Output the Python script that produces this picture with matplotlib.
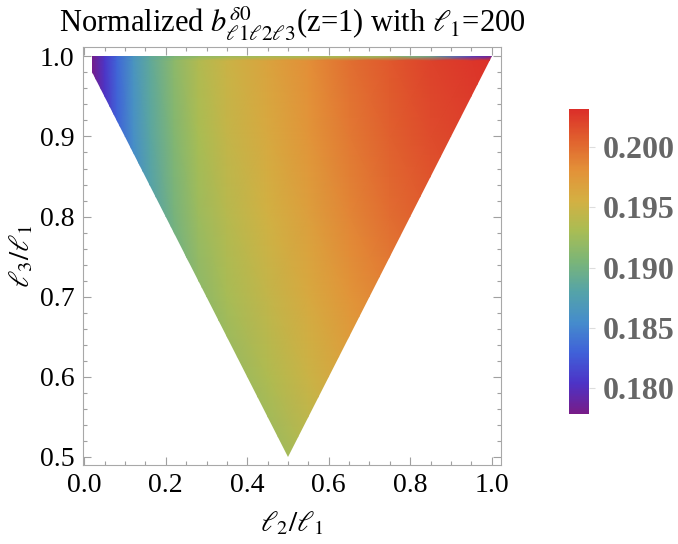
import numpy as np
import matplotlib
matplotlib.use("Agg")
import matplotlib.pyplot as plt
from matplotlib.colors import LinearSegmentedColormap, Normalize
from matplotlib.patches import Polygon
from matplotlib.cm import ScalarMappable

plt.rcParams['font.family'] = ['Liberation Serif', 'DejaVu Serif']
plt.rcParams['mathtext.fontset'] = 'stix'

# sample nodes (l2/l1, l3/l1) and values
x_nodes = [0.00, 0.02, 0.05, 0.08, 0.12, 0.16, 0.22, 0.28, 0.35, 0.45, 0.55, 0.65, 0.75, 0.85, 0.95, 1.00]
y_nodes = [0.5, 0.6, 0.7, 0.8, 0.9, 0.995, 1.0]

row_050 = [0.17326, 0.17353, 0.17598, 0.17870, 0.18170, 0.18415, 0.18687, 0.18895, 0.19050, 0.19204, 0.19367, 0.19530, 0.19657, 0.19757, 0.19821, 0.19839]
row_060 = [0.17463, 0.17490, 0.17735, 0.18007, 0.18307, 0.18552, 0.18824, 0.19032, 0.19187, 0.19341, 0.19504, 0.19667, 0.19794, 0.19894, 0.19958, 0.19976]
row_070 = [0.17571, 0.17598, 0.17843, 0.18115, 0.18415, 0.18660, 0.18932, 0.19140, 0.19295, 0.19449, 0.19612, 0.19775, 0.19902, 0.20002, 0.20066, 0.20084]
row_080 = [0.17662, 0.17689, 0.17934, 0.18206, 0.18506, 0.18751, 0.19023, 0.19231, 0.19386, 0.19540, 0.19703, 0.19866, 0.19993, 0.20093, 0.20157, 0.20175]
row_090 = [0.17735, 0.17762, 0.18007, 0.18279, 0.18579, 0.18824, 0.19096, 0.19304, 0.19459, 0.19613, 0.19776, 0.19939, 0.20066, 0.20166, 0.20230, 0.20248]
row_0995 = [0.17780, 0.17807, 0.18052, 0.18324, 0.18624, 0.18869, 0.19141, 0.19349, 0.19504, 0.19658, 0.19821, 0.19984, 0.20111, 0.20211, 0.20275, 0.20293]
row_100 = [0.17780, 0.17807, 0.18052, 0.18324, 0.18624, 0.18869, 0.19050, 0.19170, 0.19230, 0.19270, 0.19290, 0.19270, 0.19180, 0.18900, 0.18100, 0.17850]

# allowed region l3>=l1-l2, l3>=l2, l2>=0.02 l1
region = [(0.02, 1.0), (1.0, 1.0), (0.5, 0.5), (0.02, 0.98)]

cbar_ticks = [0.180, 0.185, 0.190, 0.195, 0.200]
vmin, vmax = 0.1778, 0.2032

rainbow = LinearSegmentedColormap.from_list("mma_rainbow", [
    (0.00, (0.47, 0.11, 0.53)),
    (0.10, (0.30, 0.20, 0.78)),
    (0.20, (0.25, 0.38, 0.85)),
    (0.30, (0.27, 0.55, 0.80)),
    (0.40, (0.33, 0.64, 0.66)),
    (0.50, (0.48, 0.71, 0.47)),
    (0.60, (0.66, 0.74, 0.33)),
    (0.70, (0.83, 0.69, 0.26)),
    (0.80, (0.89, 0.57, 0.22)),
    (0.90, (0.88, 0.38, 0.18)),
    (1.00, (0.86, 0.18, 0.16)),
])

fig = plt.figure(figsize=(6.78, 5.44), dpi=100)
ax = fig.add_axes([0.122, 0.145, 0.617, 0.769])

X, Y = np.meshgrid(x_nodes, y_nodes)
Z = np.array([row_050, row_060, row_070, row_080, row_090, row_0995, row_100])
norm = Normalize(vmin=vmin, vmax=vmax)
mesh = ax.pcolormesh(X, Y, Z, shading='gouraud', cmap=rainbow, norm=norm)
clip = Polygon(region, closed=True, facecolor='none', edgecolor='none')
ax.add_patch(clip)
mesh.set_clip_path(clip)

ax.set_xlim(-0.004, 1.023)
ax.set_ylim(0.4896, 1.012)
ax.set_xticks(np.arange(0, 1.01, 0.2))
ax.set_xticks(np.arange(0, 1.01, 0.05), minor=True)
ax.set_yticks(np.arange(0.5, 1.01, 0.1))
ax.set_yticks(np.arange(0.5, 1.01, 0.02), minor=True)
ax.set_xticklabels(['%.1f' % v for v in np.arange(0, 1.01, 0.2)])
ax.set_yticklabels(['%.1f' % v for v in np.arange(0.5, 1.01, 0.1)])
ax.tick_params(which='both', direction='in', top=True, right=True, color='#a0a0a0', width=0.8)
ax.tick_params(which='major', length=6, labelsize=20, pad=6)
ax.tick_params(which='minor', length=3)
for s in ax.spines.values():
    s.set_color('#a8a8a8')
    s.set_linewidth(0.8)

ax.set_xlabel(r'$\ell_2/\ell_1$', fontsize=21, labelpad=8)
ax.set_ylabel(r'$\ell_3/\ell_1$', fontsize=21, labelpad=3)
ax.set_title(r'Normalized $b^{\delta0}_{\ell1\ell2\ell3}$(z=1) with $\ell_1$=200', fontsize=22, pad=10)

cax = fig.add_axes([569 / 678, (544 - 414) / 544, 20 / 678, 305 / 544])
cb = fig.colorbar(ScalarMappable(norm=norm, cmap=rainbow), cax=cax, ticks=cbar_ticks)
cb.outline.set_visible(False)
cb.ax.set_yticklabels(['%.3f' % v for v in cbar_ticks])
cb.ax.tick_params(length=4, color='#dddddd', labelsize=23, labelcolor='#666666', pad=6)
for t in cb.ax.get_yticklabels():
    t.set_fontweight('bold')

fig.savefig('out.png', dpi=100)
